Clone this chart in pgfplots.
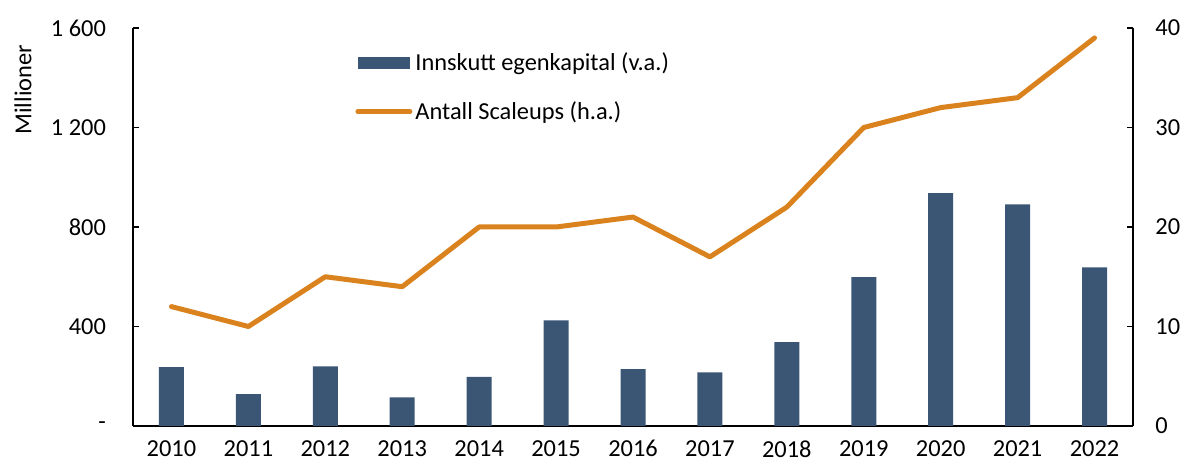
\documentclass[border=0pt]{standalone}
\usepackage{fontspec}
\setmainfont{Carlito}
\usepackage{pgfplots}
\usepackage{pgfplotstable}
\pgfplotsset{compat=1.18}
\definecolor{barblue}{RGB}{59,86,117}
\definecolor{lineorange}{RGB}{218,131,30}

% idx year equity(mill.) scaleups
\pgfplotstableread{
idx year kapital scaleups
0  2010 237 12
1  2011 128 10
2  2012 240 15
3  2013 115 14
4  2014 197 20
5  2015 425 20
6  2016 229 21
7  2017 216 17
8  2018 337 22
9  2019 598 30
10 2020 936 32
11 2021 891 33
12 2022 638 39
}\data

\begin{document}
\begin{tikzpicture}[font=\fontsize{12.2}{14}\selectfont]
\pgfplotsset{
  base/.style={
    width=500pt, height=199pt, scale only axis,
    xmin=-0.5, xmax=12.5,
    tick align=inside, major tick length=3pt,
    axis line style={black, line width=0.7pt},
    tick style={black, line width=0.7pt},
    /pgf/number format/assume math mode=true,
  },
}
\begin{axis}[base, name=ax,
  axis y line*=left, axis x line*=bottom,
  ymin=0, ymax=1600,
  ytick={0,400,800,1200,1600},
  yticklabels={-,400,800,1 200,1 600},
  yticklabel style={xshift=-10pt},
  xtick={0,...,12},
  xticklabels={2010,2011,2012,2013,2014,2015,2016,2017,2018,2019,2020,2021,2022},
  x tick style={draw=none},
  xticklabel style={yshift=-6pt, inner sep=1pt},
  ylabel={Millioner},
  ylabel style={at={(axis description cs:-0.11,0.975)}, anchor=east},
]
\addplot[ybar, bar width=12.5pt, fill=barblue, draw=none] table[x=idx, y=kapital] {\data};
\end{axis}
\begin{axis}[base,
  axis y line*=right, axis x line=none,
  ymin=0, ymax=40,
  ytick={0,10,20,30,40},
  yticklabel style={inner sep=0pt, anchor=west, xshift=11pt},
  legend style={draw=none, fill=none, at={(0.216,0.96)}, anchor=north west,
    row sep=10pt, font=\fontsize{12.2}{14}\selectfont,
    /tikz/every odd column/.style={column sep=-0.5pt}},
  legend cell align=left,
]
\addlegendimage{legend image code/.code={\fill[barblue] (0pt,-2.75pt) rectangle (25.5pt,2.75pt);}}
\addlegendentry{Innskutt egenkapital (v.a.)}
\addplot[lineorange, line width=2.5pt, line cap=round, line join=round,
  legend image code/.code={\draw[lineorange, line width=2.5pt, line cap=round] (0pt,0pt) -- (26pt,0pt);}]
  table[x=idx, y=scaleups] {\data};
\addlegendentry{Antall Scaleups (h.a.)}
\end{axis}
\path[use as bounding box] ([shift={(-66.5pt,-20pt)}]ax.south west) rectangle ([shift={(25.5pt,14pt)}]ax.north east);
\end{tikzpicture}
\end{document}
